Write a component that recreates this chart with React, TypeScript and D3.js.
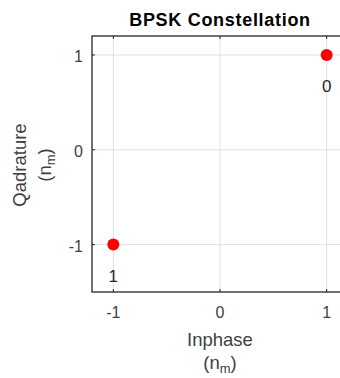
import React from "react";
import * as d3 from "d3";

const symbols = ["0", "1"];
const inphase = [1, -1];
const quadrature = [1, -1];
const xTicks = [-1, 0, 1];
const yTicks = [-1, 0, 1];

export default function App() {
  const width = 340;
  const height = 378;
  const margin = { left: 92, top: 36, right: 348, bottom: 292 };
  const font = "'Liberation Sans', Arial, sans-serif";
  const textColor = "#404040";

  const xScale = d3.scaleLinear().domain([-1.2, 1.2]).range([margin.left, margin.right]);
  const yScale = d3.scaleLinear().domain([-1.5, 1.2]).range([margin.bottom, margin.top]);

  const points = symbols.map((s, i) => ({ s, x: inphase[i], y: quadrature[i] }));

  return (
    <svg
      width={width}
      height={height}
      style={{ position: "absolute", left: 0, top: 0, background: "#fff" }}
      fontFamily={font}
    >
      <rect x={0} y={0} width={width} height={height} fill="#fff" />
      {/* grid */}
      {xTicks.map((t) => (
        <line key={"gx" + t} x1={xScale(t)} x2={xScale(t)} y1={margin.top} y2={margin.bottom} stroke="#e0e0e0" strokeWidth={1} />
      ))}
      {yTicks.map((t) => (
        <line key={"gy" + t} x1={margin.left} x2={margin.right} y1={yScale(t)} y2={yScale(t)} stroke="#e0e0e0" strokeWidth={1} />
      ))}
      {/* tick marks on all four sides */}
      {xTicks.map((t) => (
        <g key={"tx" + t} stroke="#262626" strokeWidth={1}>
          <line x1={xScale(t)} x2={xScale(t)} y1={margin.bottom} y2={margin.bottom - 3} />
          <line x1={xScale(t)} x2={xScale(t)} y1={margin.top} y2={margin.top + 3} />
        </g>
      ))}
      {yTicks.map((t) => (
        <line key={"ty" + t} x1={margin.left} x2={margin.left + 3} y1={yScale(t)} y2={yScale(t)} stroke="#262626" strokeWidth={1} />
      ))}
      {/* box */}
      <rect
        x={margin.left}
        y={margin.top}
        width={margin.right - margin.left}
        height={margin.bottom - margin.top}
        fill="none"
        stroke="#262626"
        strokeWidth={1.3}
      />
      {/* tick labels */}
      {xTicks.map((t) => (
        <text key={"lx" + t} x={xScale(t)} y={margin.bottom + 26} textAnchor="middle" fontSize={16} fill={textColor}>
          {t}
        </text>
      ))}
      {yTicks.map((t) => (
        <text key={"ly" + t} x={margin.left - 9} y={yScale(t) + 7} textAnchor="end" fontSize={16} fill={textColor}>
          {t}
        </text>
      ))}
      {/* points */}
      {points.map((p) => (
        <g key={p.s}>
          <circle cx={xScale(p.x)} cy={yScale(p.y)} r={6} fill="#ff0000" />
          <text x={xScale(p.x)} y={yScale(p.y) + 37} textAnchor="middle" fontSize={17} fill="#262626">
            {p.s}
          </text>
        </g>
      ))}
      {/* title */}
      <text x={220} y={26} textAnchor="middle" fontSize={18} fontWeight="bold" letterSpacing={0.7} fill="#000">
        BPSK Constellation
      </text>
      {/* x label */}
      <text x={xScale(0)} y={346} textAnchor="middle" fontSize={18.5} fill={textColor}>
        Inphase
      </text>
      <text x={xScale(0)} y={369} textAnchor="middle" fontSize={18.5} fill={textColor}>
        (n<tspan fontSize={13} dy={4}>m</tspan>
        <tspan dy={-4}>)</tspan>
      </text>
      {/* y label */}
      <g transform={`translate(26, 165) rotate(-90)`}>
        <text x={0} y={0} textAnchor="middle" fontSize={18.5} fill={textColor}>
          Qadrature
        </text>
        <text x={0} y={25} textAnchor="middle" fontSize={18.5} fill={textColor}>
          (n<tspan fontSize={13} dy={4}>m</tspan>
          <tspan dy={-4}>)</tspan>
        </text>
      </g>
    </svg>
  );
}
